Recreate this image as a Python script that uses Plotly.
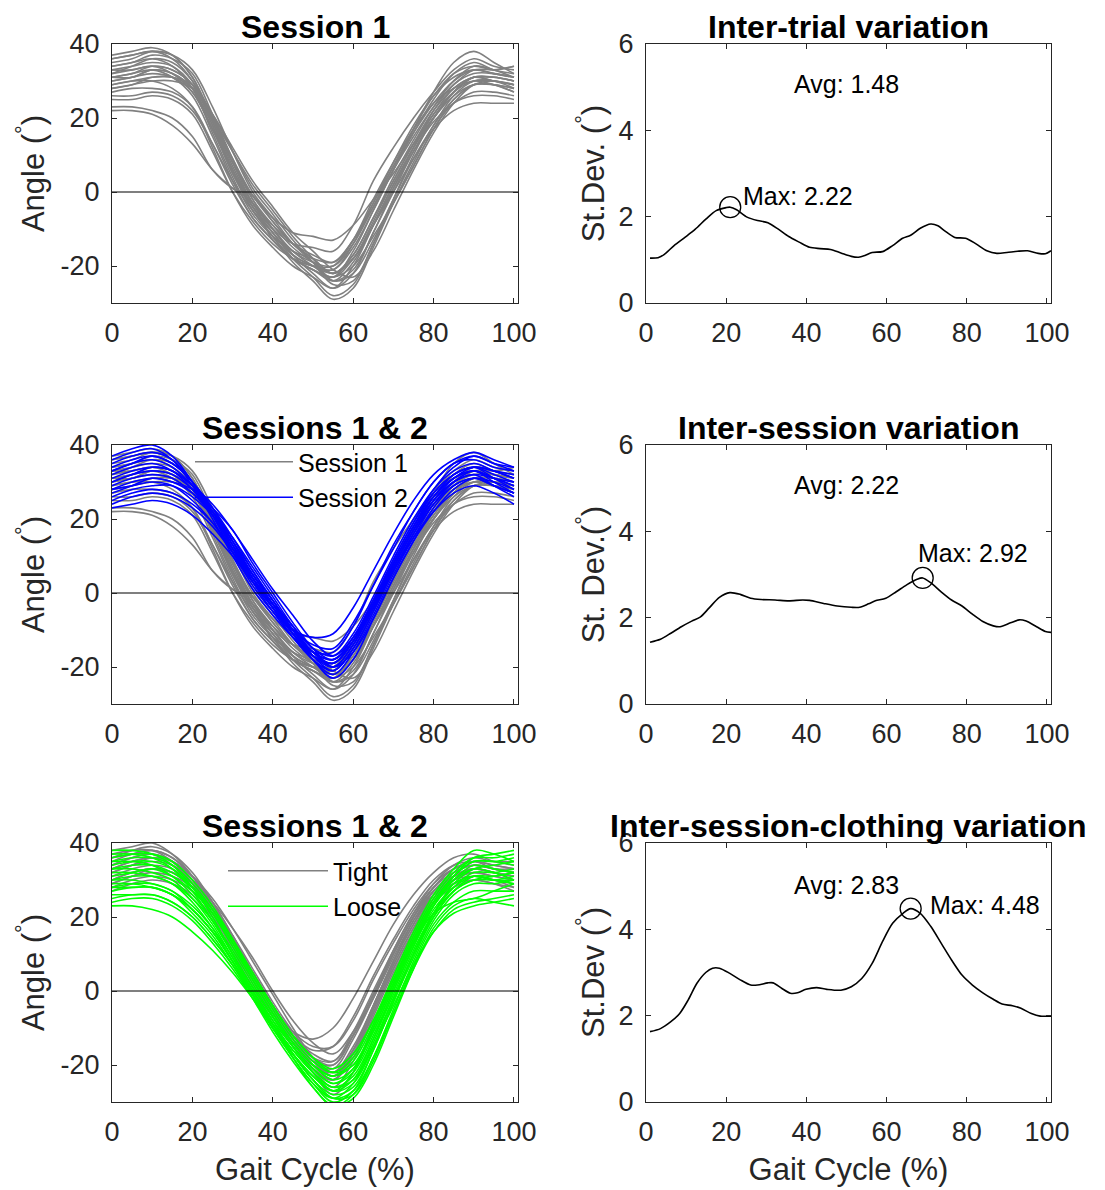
import plotly.graph_objects as go
from plotly.subplots import make_subplots

W, H = 1105, 1190

# ---------------- data ----------------
gait_x = [0, 5, 10, 15, 20, 25, 30, 35, 40, 45, 50, 55, 60, 65, 70, 75, 80, 85, 90, 95, 100]

session1 = [
    [36, 37, 38, 36, 30, 18, 5, -4, -10, -14, -15, -16, -9, 3, 12, 20, 27, 33, 36, 34, 33],
    [33, 34, 35, 34, 29, 19, 7, -3, -9, -14, -17, -19, -13, -3, 7, 16, 24, 30, 33, 32, 31],
    [31, 32, 34, 33, 29, 20, 9, -1, -8, -14, -18, -22, -17, -7, 3, 13, 21, 28, 31, 31, 30],
    [29, 30, 31, 31, 28, 20, 11, 2, -5, -12, -18, -24, -22, -13, -2, 9, 18, 26, 30, 30, 28],
    [23, 23, 22, 20, 15, 6, 1, -1, -8, -14, -18, -22, -18, -9, 0, 9, 17, 22, 24, 24, 24],
    [22, 22, 21, 18, 13, 6, 1, -3, -13, -18, -21, -23, -20, -12, -3, 7, 17, 24, 26, 26, 25],
    [27, 28, 28, 27, 23, 13, 2, -7, -13, -18, -21, -24, -19, -9, 2, 12, 20, 26, 29, 29, 28],
    [34, 35, 37, 36, 32, 21, 9, -2, -10, -17, -22, -26, -22, -11, 0, 11, 20, 27, 31, 31, 30],
    [30, 31, 33, 32, 28, 17, 5, -5, -12, -19, -24, -29, -26, -15, -3, 8, 18, 25, 29, 29, 28],
    [32, 33, 34, 33, 29, 19, 8, -1, -7, -11, -12, -13, -9, -2, 5, 13, 20, 27, 31, 31, 30],
    [28, 29, 30, 30, 28, 21, 12, 3, -4, -11, -16, -21, -23, -16, -5, 6, 16, 24, 29, 30, 29],
    [35, 36, 38, 37, 31, 19, 6, -5, -12, -18, -21, -23, -16, -5, 6, 16, 25, 32, 35, 33, 32],
    [31, 32, 33, 31, 26, 15, 3, -7, -13, -18, -20, -21, -15, -5, 6, 17, 27, 35, 38, 35, 32],
    [26, 26, 27, 26, 22, 13, 3, -5, -11, -17, -20, -22, -18, -9, 1, 11, 19, 24, 27, 27, 26],
    [37, 38, 39, 37, 31, 20, 8, -3, -10, -16, -19, -20, -14, -4, 7, 17, 26, 32, 34, 33, 34],
    [29, 30, 30, 28, 23, 12, 0, -9, -15, -20, -23, -26, -20, -9, 2, 12, 21, 27, 30, 30, 29],
    [32, 34, 36, 35, 30, 20, 8, -2, -9, -15, -19, -22, -17, -7, 4, 14, 23, 30, 34, 33, 31],
    [30, 31, 32, 31, 27, 17, 6, -4, -11, -17, -20, -21, -14, -3, 8, 18, 26, 31, 33, 32, 31],
    [34, 35, 36, 34, 28, 16, 4, -6, -12, -16, -18, -19, -13, -4, 6, 15, 23, 29, 33, 33, 34],
    [28, 29, 31, 31, 29, 21, 11, 1, -6, -13, -19, -25, -24, -14, -3, 7, 17, 25, 29, 29, 27],
    [33, 33, 34, 32, 27, 17, 6, -3, -10, -16, -20, -23, -18, -8, 3, 13, 22, 28, 31, 30, 29],
    [25, 25, 26, 25, 21, 11, 0, -8, -14, -18, -20, -20, -13, -2, 8, 17, 24, 28, 30, 29, 27],
    [36, 37, 38, 37, 33, 23, 11, 0, -7, -14, -19, -24, -21, -11, 1, 12, 22, 29, 32, 32, 31],
    [31, 31, 33, 32, 28, 18, 6, -4, -11, -18, -23, -28, -25, -14, -2, 10, 20, 27, 31, 30, 29],
]

session2 = [
    [37, 39, 40, 37, 30, 21, 11, 2, -5, -10, -12, -11, -4, 6, 16, 25, 32, 36, 38, 36, 34],
    [34, 36, 37, 35, 30, 22, 13, 4, -4, -10, -14, -15, -8, 2, 13, 22, 30, 35, 36, 34, 33],
    [31, 33, 34, 33, 29, 23, 15, 6, -2, -9, -15, -17, -11, -1, 10, 20, 28, 33, 35, 33, 31],
    [28, 30, 31, 30, 27, 22, 15, 7, -1, -9, -16, -19, -13, -3, 8, 18, 26, 31, 33, 31, 29],
    [25, 27, 28, 27, 24, 19, 12, 5, -2, -10, -17, -21, -15, -5, 6, 16, 24, 29, 31, 29, 27],
    [23, 24, 25, 24, 21, 16, 10, 3, -3, -9, -15, -18, -13, -4, 6, 15, 22, 27, 29, 27, 24],
    [30, 32, 33, 32, 28, 22, 14, 5, -3, -11, -18, -22, -16, -6, 5, 15, 24, 30, 33, 31, 30],
    [33, 35, 36, 34, 29, 22, 13, 3, -5, -12, -17, -19, -13, -3, 8, 18, 27, 32, 34, 33, 32],
    [27, 29, 31, 30, 28, 23, 17, 8, 0, -8, -15, -20, -16, -7, 4, 14, 23, 29, 31, 29, 27],
    [35, 37, 38, 36, 30, 22, 12, 3, -4, -11, -16, -18, -12, -2, 9, 19, 28, 34, 37, 35, 33],
    [29, 31, 32, 31, 27, 21, 13, 5, -3, -11, -18, -23, -18, -7, 4, 14, 22, 28, 31, 30, 28],
    [24, 26, 27, 26, 23, 18, 11, 4, -3, -10, -16, -20, -14, -4, 7, 17, 25, 30, 32, 29, 26],
    [36, 38, 39, 36, 29, 20, 10, 1, -6, -12, -16, -16, -9, 2, 12, 22, 30, 35, 37, 35, 34],
    [32, 34, 35, 33, 28, 21, 12, 4, -3, -10, -17, -20, -14, -4, 7, 17, 26, 32, 34, 32, 30],
    [26, 28, 29, 29, 26, 21, 14, 6, -2, -10, -16, -18, -12, -2, 9, 19, 27, 32, 34, 31, 28],
    [30, 32, 34, 33, 29, 24, 17, 9, 1, -6, -13, -17, -12, -3, 7, 17, 25, 30, 32, 31, 29],
    [33, 35, 37, 35, 30, 23, 14, 4, -4, -12, -18, -21, -15, -5, 6, 16, 25, 31, 34, 33, 31],
    [28, 29, 30, 29, 25, 19, 11, 3, -4, -11, -17, -19, -13, -3, 8, 18, 26, 31, 33, 30, 27],
]

tight = [
    [38, 39, 40, 37, 31, 22, 12, 2, -6, -11, -13, -10, -2, 8, 18, 26, 32, 36, 37, 35, 34],
    [35, 37, 38, 36, 31, 23, 13, 3, -5, -12, -16, -15, -7, 4, 14, 23, 30, 34, 35, 34, 33],
    [33, 35, 36, 35, 31, 24, 15, 5, -4, -12, -18, -20, -12, -1, 10, 20, 28, 32, 34, 33, 32],
    [31, 33, 34, 33, 29, 23, 15, 6, -3, -11, -18, -22, -16, -5, 7, 17, 25, 30, 32, 31, 30],
    [29, 31, 33, 32, 28, 22, 14, 5, -4, -13, -21, -26, -19, -7, 5, 15, 24, 29, 31, 30, 29],
    [27, 29, 30, 29, 26, 20, 12, 3, -6, -14, -20, -22, -15, -4, 8, 18, 26, 30, 31, 30, 28],
    [36, 38, 39, 37, 32, 24, 14, 4, -5, -13, -19, -21, -13, -2, 10, 20, 28, 33, 35, 34, 33],
    [32, 34, 36, 35, 31, 25, 17, 8, -1, -10, -18, -23, -17, -6, 6, 16, 25, 31, 33, 32, 31],
    [34, 36, 37, 35, 30, 22, 12, 2, -7, -15, -22, -28, -22, -9, 4, 15, 24, 30, 33, 32, 30],
    [30, 32, 33, 32, 29, 24, 17, 9, 0, -8, -14, -17, -11, -1, 10, 20, 27, 31, 33, 32, 31],
    [28, 30, 31, 30, 27, 21, 13, 4, -5, -12, -17, -19, -12, -2, 9, 19, 26, 29, 30, 29, 27],
    [37, 38, 38, 35, 29, 20, 10, 1, -7, -14, -19, -20, -12, -1, 11, 21, 29, 34, 36, 35, 35],
    [34, 36, 37, 35, 30, 22, 13, 3, -6, -13, -18, -19, -11, 0, 11, 21, 28, 33, 35, 33, 32],
    [30, 32, 33, 32, 28, 22, 14, 5, -4, -12, -19, -23, -16, -4, 8, 18, 27, 31, 32, 31, 30],
    [32, 34, 35, 34, 30, 23, 14, 4, -5, -14, -21, -24, -17, -5, 7, 17, 26, 31, 33, 32, 31],
    [36, 37, 38, 36, 31, 24, 15, 5, -4, -11, -15, -15, -8, 3, 13, 22, 29, 33, 34, 33, 33],
    [29, 31, 32, 31, 28, 22, 14, 5, -4, -13, -20, -24, -18, -6, 6, 16, 24, 28, 30, 29, 28],
    [33, 35, 36, 34, 29, 21, 11, 1, -8, -15, -21, -24, -16, -4, 8, 19, 27, 32, 34, 33, 32],
]

loose = [
    [38, 38, 37, 34, 28, 20, 10, 0, -8, -15, -21, -25, -22, -12, 0, 12, 23, 31, 36, 37, 38],
    [35, 35, 34, 31, 26, 19, 10, 1, -7, -15, -22, -27, -25, -15, -2, 10, 21, 29, 33, 34, 35],
    [32, 32, 31, 29, 24, 17, 8, -1, -10, -18, -25, -30, -27, -16, -3, 10, 21, 28, 32, 32, 33],
    [29, 29, 28, 26, 21, 15, 7, -2, -11, -19, -26, -31, -28, -18, -5, 8, 19, 26, 29, 29, 30],
    [26, 26, 26, 24, 20, 14, 7, -1, -9, -16, -22, -26, -23, -13, -1, 11, 21, 27, 30, 30, 31],
    [23, 23, 22, 20, 16, 11, 5, -2, -9, -16, -22, -26, -24, -15, -4, 7, 16, 21, 23, 24, 25],
    [36, 37, 37, 35, 30, 23, 14, 4, -5, -13, -19, -22, -18, -8, 4, 16, 26, 33, 38, 37, 35],
    [33, 34, 34, 32, 28, 22, 14, 5, -4, -12, -18, -22, -20, -11, 1, 13, 23, 30, 34, 33, 32],
    [30, 31, 31, 29, 25, 19, 11, 2, -7, -15, -21, -25, -21, -10, 2, 14, 24, 30, 33, 32, 30],
    [27, 28, 28, 26, 22, 16, 8, 0, -8, -17, -24, -29, -28, -19, -6, 7, 18, 24, 27, 27, 27],
    [24, 25, 25, 23, 19, 13, 6, -2, -10, -17, -23, -27, -22, -10, 2, 13, 21, 24, 25, 27, 29],
    [34, 35, 35, 33, 28, 21, 12, 3, -6, -14, -20, -24, -21, -11, 1, 13, 24, 31, 35, 35, 36],
    [31, 32, 33, 31, 27, 21, 13, 4, -4, -12, -18, -21, -17, -8, 3, 14, 23, 29, 31, 30, 30],
    [28, 29, 29, 27, 23, 17, 9, 0, -9, -18, -26, -31, -29, -20, -7, 6, 17, 23, 25, 24, 23],
    [37, 37, 36, 33, 27, 19, 10, 1, -7, -14, -20, -23, -19, -9, 3, 15, 25, 32, 36, 36, 37],
    [33, 33, 32, 30, 25, 18, 9, 0, -9, -17, -24, -28, -26, -16, -3, 9, 20, 27, 31, 31, 32],
    [30, 30, 29, 27, 22, 16, 8, -1, -10, -18, -25, -29, -25, -14, -2, 10, 20, 27, 30, 31, 32],
    [25, 26, 26, 24, 20, 14, 7, -1, -9, -17, -24, -29, -27, -18, -6, 6, 16, 22, 24, 25, 26],
    [35, 36, 36, 34, 29, 22, 13, 3, -6, -14, -20, -23, -20, -10, 2, 14, 24, 31, 35, 35, 34],
    [28, 28, 28, 26, 22, 16, 8, -1, -10, -17, -23, -27, -24, -13, 0, 12, 22, 28, 31, 30, 29],
]

zero_x = [0, 101]
zero_y = [0, 0]

inter_trial_x = [1, 3, 4.5, 7, 9.7, 12.3, 15, 17.5, 20, 21, 22.6, 25.2, 27.8, 30.4, 33, 35.6,
                 38.2, 40.8, 43.4, 46, 48.6, 51.2, 53, 54.6, 56.4, 59, 61.5, 64, 66, 68.4, 71,
                 72.8, 74.5, 77, 79.7, 82.3, 85, 87.5, 90, 92.7, 95.2, 97.8, 99.6, 101]
inter_trial_sd = [1.04, 1.05, 1.12, 1.33, 1.52, 1.71, 1.95, 2.14, 2.21, 2.22, 2.16, 1.99, 1.91,
                  1.86, 1.71, 1.54, 1.41, 1.29, 1.26, 1.24, 1.16, 1.08, 1.06, 1.10, 1.17, 1.19,
                  1.33, 1.50, 1.57, 1.73, 1.83, 1.79, 1.67, 1.52, 1.50, 1.37, 1.21, 1.15, 1.17,
                  1.20, 1.21, 1.15, 1.14, 1.21]

inter_session_x = [1, 3.6, 6.2, 8.8, 11.4, 13.6, 15.7, 18.3, 20.9, 23.5, 26.1, 28.7, 32.2, 35.6,
                   39.1, 40.8, 44.3, 47.7, 51.2, 53.3, 55.5, 57.2, 59.8, 62.4, 65, 67.6, 69, 71,
                   73.6, 76.2, 78.8, 81.4, 84, 86.6, 88.3, 90.9, 93.1, 94.8, 97.4, 99.6, 101]
inter_session_sd = [1.43, 1.50, 1.64, 1.79, 1.92, 2.02, 2.22, 2.47, 2.58, 2.54, 2.45, 2.42, 2.41,
                    2.39, 2.41, 2.40, 2.33, 2.27, 2.24, 2.24, 2.32, 2.39, 2.45, 2.60, 2.76, 2.89,
                    2.92, 2.81, 2.60, 2.41, 2.27, 2.08, 1.91, 1.81, 1.79, 1.88, 1.95, 1.92, 1.79,
                    1.68, 1.66]

clothing_x = [1, 3.6, 6.2, 8.4, 10.5, 12.7, 14.9, 16.6, 18.3, 20.9, 23.5, 26.1, 27.8, 30.4, 31.7,
              33.9, 36, 37.8, 39.9, 42.5, 45.1, 48.6, 51.2, 53.8, 56.4, 59, 61.5, 64.1, 66, 68.4,
              71, 73.6, 76.2, 78.8, 81.4, 84, 86.6, 88.8, 91.4, 93.5, 96.1, 98.3, 101]
clothing_sd = [1.63, 1.70, 1.86, 2.05, 2.36, 2.75, 3.00, 3.10, 3.10, 2.98, 2.83, 2.71, 2.71, 2.76,
               2.76, 2.63, 2.52, 2.53, 2.61, 2.65, 2.61, 2.59, 2.67, 2.86, 3.21, 3.72, 4.14, 4.37,
               4.48, 4.37, 4.07, 3.68, 3.29, 2.94, 2.71, 2.53, 2.38, 2.27, 2.23, 2.17, 2.05, 1.99,
               1.99]

max_points = [(21, 2.22), (69, 2.92), (66, 4.48)]
avg_values = [1.48, 2.22, 2.83]
max_values = [2.22, 2.92, 4.48]

angle_ticks = [-20, 0, 20, 40]
angle_ticktext = ["-20", "0", "20", "40"]
sd_ticks = [0, 2, 4, 6]
gait_ticks = [0, 20, 40, 60, 80, 100]

GREY = "#808080"
BLUE = "#0000ff"
GREEN = "#00ff00"
FONT = "Liberation Sans, Arial, sans-serif"
AX = "#262626"

fig = make_subplots(rows=3, cols=2)


def add_bundle(curves, color, row, name, legend):
    for i, c in enumerate(curves):
        fig.add_trace(go.Scatter(
            x=gait_x, y=c, mode="lines",
            line=dict(color=color, width=1.6, shape="spline", smoothing=1.0),
            name=name, legendgroup=name, showlegend=(i == 0 and legend is not None),
            legend=legend if legend else "legend", hoverinfo="skip"),
            row=row, col=1)


add_bundle(session1, GREY, 1, "Session 1a", None)
add_bundle(session1, GREY, 2, "Session 1", "legend2")
add_bundle(session2, BLUE, 2, "Session 2", "legend2")
add_bundle(tight, GREY, 3, "Tight", "legend3")
add_bundle(loose, GREEN, 3, "Loose", "legend3")

for r in (1, 2, 3):
    fig.add_trace(go.Scatter(x=zero_x, y=zero_y, mode="lines",
                             line=dict(color="black", width=1.2),
                             showlegend=False, hoverinfo="skip"), row=r, col=1)

sd_sets = [(inter_trial_x, inter_trial_sd), (inter_session_x, inter_session_sd),
           (clothing_x, clothing_sd)]
for r, (sx, sy) in enumerate(sd_sets, start=1):
    fig.add_trace(go.Scatter(x=sx, y=sy, mode="lines",
                             line=dict(color="black", width=1.6, shape="spline", smoothing=0.8),
                             showlegend=False), row=r, col=2)
    mx, my = max_points[r - 1]
    fig.add_trace(go.Scatter(x=[mx], y=[my], mode="markers",
                             marker=dict(symbol="circle-open", size=21,
                                         color="black", line=dict(width=1.3)),
                             showlegend=False), row=r, col=2)


def xd(l, r):
    return [l / W, r / W]


def yd(t, b):
    return [1 - b / H, 1 - t / H]


rows_px = [(44, 303), (445, 704), (843, 1102)]
left_px = (112, 518)
right_px = (646, 1051)

tickfont = dict(family=FONT, size=27, color=AX)
titlefont = dict(family=FONT, size=31, color=AX)

left_ytitles = ["Angle (<sup>°</sup>)", "Angle (<sup>°</sup>)", "Angle (<sup>°</sup>)"]
right_ytitles = ["St.Dev. (<sup>°</sup>)", "St. Dev.(<sup>°</sup>)", "St.Dev (<sup>°</sup>)"]
left_titles = ["Session 1", "Sessions 1 & 2", "Sessions 1 & 2"]
right_titles = ["Inter-trial variation", "Inter-session variation",
                "Inter-session-clothing variation"]

common = dict(showgrid=False, zeroline=False, showline=True, linecolor=AX, linewidth=1,
              mirror="ticks", ticks="inside", ticklen=5, tickcolor=AX, tickwidth=1,
              tickfont=tickfont, ticklabelstandoff=6, automargin=False)

annotations = []
for i, (t, b) in enumerate(rows_px):
    n_left = 2 * i + 1
    n_right = 2 * i + 2
    kl = "" if n_left == 1 else str(n_left)
    kr = str(n_right)
    xtitle = dict(text="Gait Cycle (%)", font=titlefont, standoff=11) if i == 2 else None
    fig.layout["xaxis" + kl].update(domain=xd(*left_px), range=[0, 101],
                                    tickvals=gait_ticks, title=xtitle, **common)
    fig.layout["xaxis" + kr].update(domain=xd(*right_px), range=[0, 101],
                                    tickvals=gait_ticks, title=xtitle, **common)
    fig.layout["yaxis" + kl].update(domain=yd(t, b), range=[-30, 40],
                                    tickvals=angle_ticks, ticktext=angle_ticktext,
                                    title=dict(text=left_ytitles[i], font=titlefont, standoff=6),
                                    **common)
    fig.layout["yaxis" + kr].update(domain=yd(t, b), range=[0, 6], tickvals=sd_ticks,
                                    title=dict(text=right_ytitles[i], font=titlefont, standoff=4),
                                    **common)
    annotations.append(dict(text="<b>" + left_titles[i] + "</b>", xref="paper", yref="paper",
                            x=sum(left_px) / 2 / W, y=1 - (t - 17) / H, xanchor="center",
                            yanchor="middle", showarrow=False,
                            font=dict(family=FONT, size=32, color="black")))
    annotations.append(dict(text="<b>" + right_titles[i] + "</b>", xref="paper", yref="paper",
                            x=sum(right_px) / 2 / W, y=1 - (t - 17) / H, xanchor="center",
                            yanchor="middle", showarrow=False,
                            font=dict(family=FONT, size=32, color="black")))

ann_font = dict(family=FONT, size=25, color="black")
for i, (xa, ya) in enumerate([(50, 5.07), (50, 5.07), (50, 5.02)]):
    annotations.append(dict(text="Avg: %.2f" % avg_values[i], xref="x%d" % (2 * i + 2),
                            yref="y%d" % (2 * i + 2), x=xa, y=ya, showarrow=False,
                            xanchor="center", yanchor="middle", font=ann_font))
max_label_pos = [(23.8, 2.47, "left"), (67.3, 3.5, "left"), (70.3, 4.57, "left")]
for i, (xa, ya, anc) in enumerate(max_label_pos):
    annotations.append(dict(text="Max: %.2f" % max_values[i], xref="x%d" % (2 * i + 2),
                            yref="y%d" % (2 * i + 2), x=xa, y=ya, showarrow=False,
                            xanchor=anc, yanchor="middle", font=ann_font))

leg_common = dict(bgcolor="rgba(0,0,0,0)", borderwidth=0, xanchor="left", yanchor="top",
                  font=dict(family=FONT, size=25, color="black"), tracegroupgap=0)
fig.update_layout(
    width=W, height=H, margin=dict(l=0, r=0, t=0, b=0, autoexpand=False),
    paper_bgcolor="white", plot_bgcolor="white",
    font=dict(family=FONT, color=AX),
    annotations=annotations,
    showlegend=True,
    legend2=dict(x=190 / W, y=1 - 439 / H, itemwidth=98, **leg_common),
    legend3=dict(x=223 / W, y=1 - 848 / H, itemwidth=100, **leg_common),
)

fig.write_html("out.html", include_plotlyjs=True, config={"displayModeBar": False},
               post_script="document.body.style.margin='0';")
